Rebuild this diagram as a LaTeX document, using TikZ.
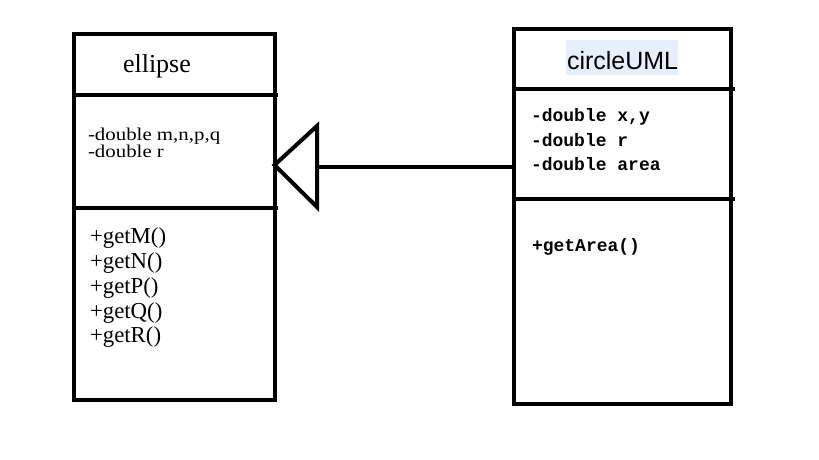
\documentclass[tikz,border=0pt]{standalone}
\usepackage{fontspec}
\setmainfont{Liberation Serif}
\newfontfamily\wideserif[FakeStretch=1.16]{Liberation Serif}
\newfontfamily\umlsans{Liberation Sans}
\newfontfamily\umlmono{Liberation Mono}
\definecolor{hl}{HTML}{E6F0FC}
\begin{document}
\begin{tikzpicture}[x=1pt,y=-1pt,
  classbox/.style={draw, line width=4pt, inner sep=0pt, outer sep=0pt, anchor=north west},
  divider/.style={line width=4pt},
  txt/.style={anchor=base west, inner sep=0pt, outer sep=0pt},
  serifattr/.style={txt, font=\wideserif\fontsize{18}{18}\selectfont},
  serifmeth/.style={txt, font=\fontsize{22.8}{22.8}\selectfont},
  monotxt/.style={txt, font=\umlmono\bfseries\fontsize{18}{18}\selectfont},
  conn/.style={line width=4pt}
]
\useasboundingbox (0,0) rectangle (819,460);
% left class
\node[classbox, minimum width=200.5pt, minimum height=365.5pt] (L) at (74,34) {};
\draw[divider] (74,95) -- (278,95);
\draw[divider] (74,207.5) -- (278,207.5);
\node[txt, font=\fontsize{26}{26}\selectfont] (Lname) at (123,72) {ellipse};
\node[serifattr] (La1) at (88,140) {-double m,n,p,q};
\node[serifattr] (La2) at (88,157) {-double r};
\node[serifmeth] (Lm1) at (90,243) {+getM()};
\node[serifmeth] (Lm2) at (90,268) {+getN()};
\node[serifmeth] (Lm3) at (90,293) {+getP()};
\node[serifmeth] (Lm4) at (90,318) {+getQ()};
\node[serifmeth] (Lm5) at (90,342.5) {+getR()};
% right class
\node[classbox, minimum width=217pt, minimum height=374pt] (R) at (514,29.5) {};
\draw[divider] (514,88.5) -- (735,88.5);
\draw[divider] (514,199) -- (735,199);
\fill[hl] (566,40) rectangle (678,75);
\node[txt, font=\umlsans\fontsize{25}{25}\selectfont] (Rname) at (567,70) {circleUML};
\node[monotxt] (Ra1) at (531,121.5) {-double x,y};
\node[monotxt] (Ra2) at (531,146) {-double r};
\node[monotxt] (Ra3) at (531,170.5) {-double area};
\node[monotxt] (Rm1) at (532,251) {+getArea()};
% generalization
\coordinate (apex) at (L.east |- 0,165);
\coordinate (tritop) at (317,126);
\coordinate (tribot) at (317,207);
\coordinate (triback) at (317,167);
\draw[conn, line join=miter] (tritop) -- (apex) -- (tribot) -- cycle;
\draw[conn] (R.west |- triback) -- (triback);
\end{tikzpicture}
\end{document}
